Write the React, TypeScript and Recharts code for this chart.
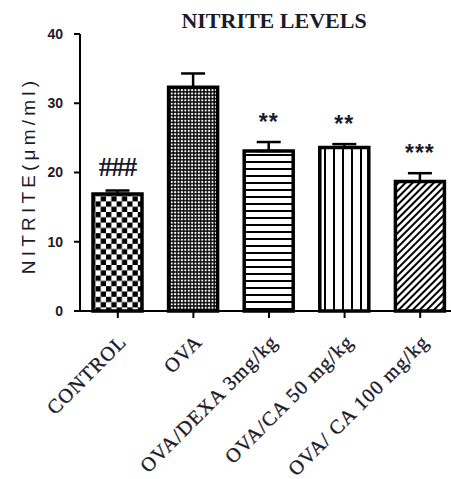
import React from 'react';
import { BarChart, Bar, XAxis, YAxis, ErrorBar, Cell, LabelList } from 'recharts';

const categories = ['CONTROL', 'OVA', 'OVA/DEXA 3mg/kg', 'OVA/CA 50 mg/kg', 'OVA/ CA 100 mg/kg'];
const nitrite = [16.9, 32.3, 23.1, 23.6, 18.7];
const sem = [0.5, 2.0, 1.3, 0.5, 1.2];
const significance = ['###', '', '**', '**', '***'];
const yTicks = [0, 10, 20, 30, 40];
const patternIds = ['pCheck', 'pDots', 'pHoriz', 'pVert', 'pDiag'];

const data = categories.map((c, i) => ({ name: c, value: nitrite[i], err: [0, sem[i]], sig: significance[i] }));

const INK = '#1b1b2b';

const XTick = (props: any) => {
  const { x, y, payload } = props;
  const px = x + 10;
  const py = y + 23;
  return (
    <text
      x={px}
      y={py}
      transform={`rotate(-45, ${px}, ${py})`}
      textAnchor="end"
      fontFamily="'Liberation Serif', 'Times New Roman', serif"
      fontSize={20}
      letterSpacing={1.2}
      fill={INK}
      stroke={INK}
      strokeWidth={0.35}
    >
      {payload.value}
    </text>
  );
};

const SigLabel = (props: any) => {
  const { x, y, width, height, index, value } = props;
  if (!value) return null;
  const perUnit = height / nitrite[index];
  const errTop = y - sem[index] * perUnit;
  const cx = x + width / 2;
  const cy = errTop - 25;
  const isHash = String(value).startsWith('#');
  return (
    <text
      x={cx}
      y={isHash ? cy + 10 : cy + 13}
      textAnchor="middle"
      fontFamily={isHash ? "'Liberation Serif', serif" : "'Liberation Sans', Arial, sans-serif"}
      fontWeight="bold"
      fontSize={isHash ? 27 : 23}
      letterSpacing={isHash ? -1 : 1}
      fill={INK}
    >
      {value}
    </text>
  );
};

const YLabel = (props: any) => {
  const vb = props.viewBox || { x: 0, y: 34, width: 80, height: 277 };
  const lx = vb.x + 28;
  const ly = vb.y + vb.height / 2 + 3;
  return (
    <text
      x={lx}
      y={ly}
      transform={`rotate(-90, ${lx}, ${ly})`}
      textAnchor="middle"
      dominantBaseline="central"
      fontFamily="'Liberation Sans', Arial, sans-serif"
      fontSize={19}
      letterSpacing={4.2}
      fill={INK}
    >
      NITRITE(μm/ml)
    </text>
  );
};

export default function App() {
  return (
    <div style={{ position: 'absolute', left: 0, top: 0, width: 451, height: 479, overflow: 'hidden', background: '#fff' }}>
      <svg width={0} height={0} style={{ position: 'absolute' }}>
        <defs>
          <pattern id="pCheck" patternUnits="userSpaceOnUse" width={10.6} height={10.6}>
            <rect width={10.6} height={10.6} fill="#fff" />
            <rect x={0} y={0} width={5.3} height={5.3} fill="#000" />
            <rect x={5.3} y={5.3} width={5.3} height={5.3} fill="#000" />
          </pattern>
          <pattern id="pDots" patternUnits="userSpaceOnUse" width={3.4} height={3.4}>
            <rect width={3.4} height={3.4} fill="#000" />
            <rect x={0.7} y={0.7} width={2} height={2} fill="#fff" />
          </pattern>
          <pattern id="pHoriz" patternUnits="userSpaceOnUse" width={7} height={7}>
            <rect width={7} height={7} fill="#fff" />
            <rect x={0} y={0} width={7} height={2} fill="#000" />
          </pattern>
          <pattern id="pVert" patternUnits="userSpaceOnUse" width={9} height={9}>
            <rect width={9} height={9} fill="#fff" />
            <rect x={0} y={0} width={2} height={9} fill="#000" />
          </pattern>
          <pattern id="pDiag" patternUnits="userSpaceOnUse" width={5} height={5} patternTransform="rotate(45)">
            <rect width={5} height={5} fill="#fff" />
            <rect x={0} y={0} width={2} height={5} fill="#000" />
          </pattern>
        </defs>
      </svg>
      <div
        style={{
          position: 'absolute',
          left: 124,
          top: 10,
          width: 300,
          textAlign: 'center',
          fontFamily: "'Liberation Serif', 'Times New Roman', serif",
          fontWeight: 'bold',
          fontSize: 22,
          lineHeight: '22px',
          color: INK,
          zIndex: 2,
        }}
      >
        NITRITE LEVELS
      </div>
      <BarChart width={460} height={479} data={data} margin={{ top: 34, right: 2, left: 0, bottom: 0 }}>
        <XAxis
          dataKey="name"
          height={168}
          interval={0}
          tick={<XTick />}
          tickSize={7}
          tickMargin={2}
          axisLine={{ stroke: '#000', strokeWidth: 2 }}
          tickLine={{ stroke: '#000', strokeWidth: 2 }}
        />
        <YAxis
          width={80}
          domain={[0, 40]}
          ticks={yTicks}
          interval={0}
          tickSize={6}
          tickMargin={11}
          axisLine={{ stroke: '#000', strokeWidth: 2 }}
          tickLine={{ stroke: '#000', strokeWidth: 2 }}
          tick={{ fill: INK, fontSize: 14, fontWeight: 'bold', fontFamily: "'Liberation Sans', Arial, sans-serif" }}
          label={<YLabel />}
        />
        <Bar dataKey="value" barSize={49} stroke="#000" strokeWidth={3.5} isAnimationActive={false}>
          {data.map((d, i) => (
            <Cell key={d.name} fill={`url(#${patternIds[i]})`} />
          ))}
          <ErrorBar dataKey="err" direction="y" width={12} stroke="#000" strokeWidth={2.5} />
          <LabelList dataKey="sig" content={<SigLabel />} />
        </Bar>
      </BarChart>
    </div>
  );
}
